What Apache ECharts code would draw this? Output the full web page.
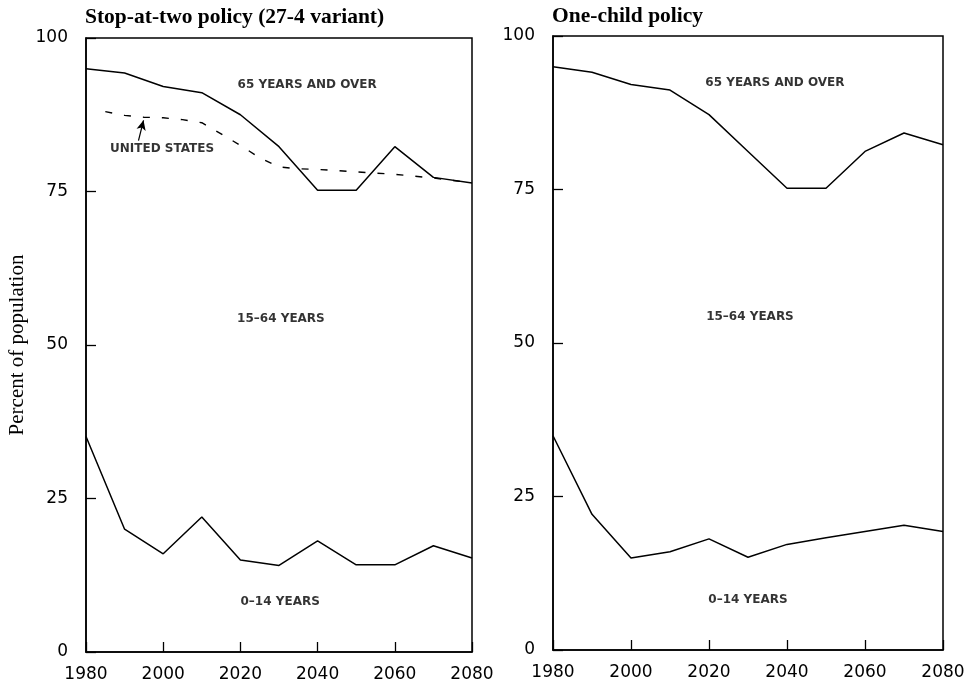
<!DOCTYPE html>
<html>
<head>
<meta charset="utf-8">
<script src="https://cdn.jsdelivr.net/npm/echarts@6/dist/echarts.min.js"></script>
<style>
  html, body { margin: 0; padding: 0; background: #fff; }
  #chart { width: 975px; height: 686px; }
</style>
</head>
<body>
<div id="chart"></div>
<script>
// Age structure of the population, percent cumulative boundaries
const years = [1980, 1990, 2000, 2010, 2020, 2030, 2040, 2050, 2060, 2070, 2080];

// Stop-at-two policy (27-4 variant)
const stopTop = [95.0, 94.3, 92.1, 91.1, 87.5, 82.3, 75.2, 75.2, 82.3, 77.3, 76.4];   // upper edge of 15-64
const stopLow = [35.1, 20.0, 16.0, 22.0, 15.0, 14.1, 18.1, 14.2, 14.2, 17.3, 15.3];   // upper edge of 0-14

// United States comparison (upper edge of 15-64)
const usYears = [1985, 1990, 1995, 2000, 2005, 2010, 2015, 2020, 2025, 2030, 2035, 2040, 2045, 2050, 2055, 2060, 2065, 2070, 2075, 2080];
const usTop = [88.0, 87.4, 87.1, 87.0, 86.7, 86.2, 84.4, 82.5, 80.5, 79.0, 78.7, 78.6, 78.4, 78.2, 78.0, 77.8, 77.5, 77.2, 76.8, 76.4];

// One-child policy
const oneTop = [95.0, 94.1, 92.1, 91.2, 87.2, 81.2, 75.2, 75.2, 81.2, 84.2, 82.3];
const oneLow = [34.9, 22.1, 15.0, 16.0, 18.1, 15.1, 17.2, 18.3, 19.3, 20.3, 19.3];

const panelTitles = ['Stop-at-two policy (27-4 variant)', 'One-child policy'];
const xTicks = [1980, 2000, 2020, 2040, 2060, 2080];

// Band labels: [x, y, text]
const leftLabels = [
  [2037.3, 92.3, '65 YEARS AND OVER'],
  [2030.5, 54.2, '15\u201364 YEARS'],
  [2030.3, 8.1, '0\u201314 YEARS'],
  [1999.7, 81.9, 'UNITED STATES']
];
const rightLabels = [
  [2036.9, 92.4, '65 YEARS AND OVER'],
  [2030.5, 54.2, '15\u201364 YEARS'],
  [2030.0, 8.2, '0\u201314 YEARS']
];
// Pointer from the US label to the dashed line
const usArrow = [[1993.6, 83.3], [1994.9, 86.6]];

const zip = (xs, ys) => xs.map((x, i) => [x, ys[i]]);

const tickFont = { fontFamily: 'DejaVu Sans', fontSize: 17, color: '#000' };
const bandFont = { fontFamily: 'DejaVu Sans', fontSize: 12, fontWeight: 'bold', color: '#000',
  textBorderWidth: 0 };
const titleFont = { fontFamily: 'Liberation Serif', fontWeight: 'bold', fontSize: 21.5, color: '#000' };

function xAxisFor(idx) {
  return {
    gridIndex: idx, type: 'value', min: 1980, max: 2080, interval: 20,
    axisLine: { show: true, lineStyle: { color: '#000', width: 1.5 } },
    axisTick: { show: true, inside: true, length: 10, lineStyle: { color: '#000', width: 1.3 } },
    axisLabel: Object.assign({ margin: 14, formatter: v => String(v),
      customValues: xTicks }, tickFont),
    splitLine: { show: false }
  };
}
function yAxisFor(idx, name) {
  return {
    gridIndex: idx, type: 'value', min: 0, max: 100, interval: 25,
    name: name, nameLocation: 'middle', nameGap: 58,
    nameTextStyle: { fontFamily: 'Liberation Serif', fontSize: 21, color: '#000' },
    axisLine: { show: true, lineStyle: { color: '#000', width: 1.5 } },
    axisTick: { show: true, inside: true, length: 10, lineStyle: { color: '#000', width: 1.3 } },
    axisLabel: Object.assign({ margin: 18 }, tickFont),
    splitLine: { show: false }
  };
}
function lineSeries(idx, data, dashed) {
  return {
    type: 'line', xAxisIndex: idx, yAxisIndex: idx, data: data,
    symbol: 'none', silent: true, animation: false,
    lineStyle: dashed
      ? { color: '#000', width: 1.4, type: [7, 12] }
      : { color: '#000', width: 1.5 }
  };
}
function labelSeries(idx, labels) {
  return {
    type: 'scatter', xAxisIndex: idx, yAxisIndex: idx, symbolSize: 0, silent: true,
    animation: false,
    itemStyle: { color: '#000' },
    data: labels.map(l => ({ value: [l[0], l[1]], name: l[2] })),
    label: Object.assign({ show: true, position: 'inside', formatter: p => p.name }, bandFont)
  };
}

const chart = echarts.init(document.getElementById('chart'), null, { renderer: 'canvas' });
chart.setOption({
  backgroundColor: '#fff',
  animation: false,
  title: [
    { text: panelTitles[0], left: 85, top: 6, padding: 0, textStyle: titleFont },
    { text: panelTitles[1], left: 552, top: 5, padding: 0, textStyle: titleFont }
  ],
  grid: [
    { left: 86, top: 38, width: 386, height: 614, show: true, borderColor: '#000', borderWidth: 1.5 },
    { left: 553, top: 36, width: 390, height: 614, show: true, borderColor: '#000', borderWidth: 1.5 }
  ],
  xAxis: [xAxisFor(0), xAxisFor(1)],
  yAxis: [yAxisFor(0, 'Percent of population'), yAxisFor(1, '')],
  series: [
    lineSeries(0, zip(years, stopTop), false),
    lineSeries(0, zip(years, stopLow), false),
    Object.assign(lineSeries(0, zip(usYears, usTop), true), {
      markLine: {
        silent: true, animation: false,
        symbol: ['none', 'arrow'], symbolSize: [7, 10],
        label: { show: false },
        lineStyle: { color: '#000', width: 1.2, type: 'solid' },
        data: [[{ coord: usArrow[0] }, { coord: usArrow[1] }]]
      }
    }),
    lineSeries(1, zip(years, oneTop), false),
    lineSeries(1, zip(years, oneLow), false),
    labelSeries(0, leftLabels),
    labelSeries(1, rightLabels)
  ]
});
</script>
</body>
</html>
